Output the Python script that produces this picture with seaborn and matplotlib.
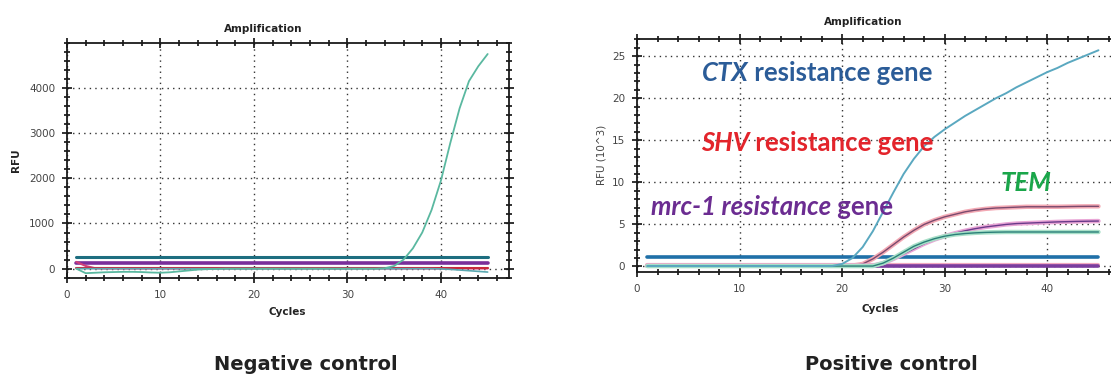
import matplotlib
matplotlib.use('Agg')
import numpy as np
import pandas as pd
import matplotlib.pyplot as plt
import seaborn as sns
from matplotlib.ticker import MultipleLocator

sns.set_style('white')
plt.rcParams['font.family'] = ['DejaVu Sans']

# cycles 1..45
cycles = list(range(1, 46))

# negative control (RFU)
neg_sample = [0, -100, -90, -80, -75, -70, -70, -75, -85, -90, -80, -60, -40, -20, -10,
              -5, 0, 0, 0, 0, 0, 0, 0, 0, 0, 0, 0, 0, 0, 0,
              0, 0, 0, 10, 60, 200, 450, 800, 1300, 1950, 2780, 3550, 4150, 4480, 4750]
neg_drift = [0] * 39 + [-5, -15, -30, -45, -60, -75]
neg_pink = [150, 60, 10] + [5] * 42
neg_thr_teal = [250] * 45
neg_thr_purple = [120] * 45
neg_thr_red = [10] * 45

# positive control (RFU x 10^3)
ctx = [0.05] * 19 + [0.3, 1.0, 2.3, 4.2, 6.5, 8.8, 11.0, 12.8, 14.3, 15.4, 16.3, 17.1, 17.9,
                     18.6, 19.3, 20.0, 20.6, 21.3, 21.9, 22.5, 23.1, 23.6, 24.2, 24.7, 25.2, 25.7]
shv = [0.1] * 21 + [0.3, 0.9, 1.7, 2.6, 3.5, 4.3, 5.0, 5.5, 5.9, 6.2, 6.5, 6.7, 6.85, 6.95,
                    7.0, 7.05, 7.1, 7.1, 7.1, 7.1, 7.12, 7.14, 7.15, 7.15]
mrc1 = [0.1] * 23 + [0.4, 0.9, 1.5, 2.1, 2.7, 3.2, 3.6, 3.95, 4.25, 4.5, 4.7, 4.85, 5.0,
                     5.1, 5.15, 5.2, 5.25, 5.3, 5.33, 5.36, 5.38, 5.4]
tem = [0.05] * 23 + [0.4, 1.0, 1.7, 2.4, 2.9, 3.3, 3.6, 3.8, 3.92, 4.0, 4.05, 4.08,
                     4.1, 4.1, 4.1, 4.1, 4.1, 4.1, 4.1, 4.1, 4.1, 4.1]
pos_base_purple = [0.05] * 45
pos_base_pink = [0.2] * 45
pos_thr = [1.1] * 45


def style_axes(ax, xmax, ylim, yminor, yticks):
    ax.set_xlim(0, xmax)
    ax.set_ylim(*ylim)
    ax.xaxis.set_major_locator(MultipleLocator(10))
    ax.xaxis.set_minor_locator(MultipleLocator(2))
    ax.set_yticks(yticks)
    ax.yaxis.set_minor_locator(MultipleLocator(yminor))
    ax.grid(True, which='major', color='#333333', linestyle=(0, (1, 3)), linewidth=1.0)
    ax.tick_params(which='both', direction='inout', bottom=True, left=True,
                   color='#111111', width=1.2)
    ax.tick_params(which='both', top=True, right=True)
    ax.tick_params(which='major', length=7, labelsize=7.5, labelcolor='#444444', pad=5)
    ax.tick_params(which='minor', length=4.5)
    for s in ax.spines.values():
        s.set_color('#1a1a1a')
        s.set_linewidth(1.3)
    ax.set_xlabel('')
    ax.set_ylabel('')


fig = plt.figure(figsize=(11.11, 3.76), dpi=100)
ax1 = fig.add_axes([0.0603, 0.2614, 0.398, 0.625])
ax2 = fig.add_axes([0.5734, 0.2774, 0.443, 0.618])

# ---- negative control
sns.lineplot(x=cycles, y=neg_thr_teal, color='#1d6e80', linewidth=2.2, ax=ax1)
sns.lineplot(x=cycles, y=neg_thr_purple, color='#7a2e9a', linewidth=2.6, ax=ax1)
sns.lineplot(x=cycles, y=neg_pink, color='#d0407a', linewidth=1.5, ax=ax1)
sns.lineplot(x=cycles, y=neg_thr_red, color='#c8283c', linewidth=1.5, ax=ax1)
sns.lineplot(x=cycles, y=neg_drift, color='#5aa8b0', linewidth=1.2, ax=ax1)
sns.lineplot(x=cycles, y=neg_sample, color='#5ab8a0', linewidth=1.3, ax=ax1)
style_axes(ax1, 47.3, (-200, 5000), 200, [0, 1000, 2000, 3000, 4000])

# ---- positive control
sns.lineplot(x=cycles, y=pos_base_pink, color='#f2a8c0', linewidth=3, ax=ax2)
sns.lineplot(x=cycles, y=pos_base_purple, color='#7a3d9e', linewidth=2.6, ax=ax2)
sns.lineplot(x=cycles, y=pos_thr, color='#1f70a8', linewidth=2.6, ax=ax2)
for vals, glow, core in [(shv, '#f3a9b4', '#7a4a6e'),
                         (mrc1, '#e9a6d6', '#6a3a8a'),
                         (tem, '#a8e0c8', '#2a7f78')]:
    sns.lineplot(x=cycles, y=vals, color=glow, linewidth=3.2, ax=ax2)
    sns.lineplot(x=cycles, y=vals, color=core, linewidth=1.0, ax=ax2)
sns.lineplot(x=cycles, y=ctx, color='#5aa8c0', linewidth=1.4, ax=ax2)
style_axes(ax2, 48, (-0.62, 27), 1, [0, 5, 10, 15, 20, 25])
ax2.spines['right'].set_visible(False)

# annotations in positive panel
txt = dict(fontsize=18.5, fontweight='bold', family=['Lato', 'DejaVu Sans'])


def two_part(ax, x, y, first, second, color):
    t1 = ax.text(x, y, first, color=color, va='center', ha='left',
                 fontstyle='italic', **txt)
    ax.annotate(second, xy=(1, 0), xycoords=t1, va='bottom', ha='left',
                color=color, fontstyle='normal', **txt)


two_part(ax2, 6.3, 23.0, 'CTX', ' resistance gene', '#2b5c98')
two_part(ax2, 6.2, 14.7, 'SHV', ' resistance gene', '#e3242b')
two_part(ax2, 1.33, 7.05, 'mrc-1 resistance', ' gene', '#6b2c91')
ax2.text(35.5, 9.9, 'TEM', color='#1aa64a', va='center', ha='left',
         fontstyle='italic', **txt)

# titles / labels
W, H = 1111, 376
lab = dict(fontsize=7.5, fontweight='bold', color='#222222', ha='center', va='center')
fig.text(263 / W, 1 - 29.3 / H, 'Amplification', **lab)
fig.text(863 / W, 1 - 21.7 / H, 'Amplification', **lab)
fig.text(287.5 / W, 1 - 312 / H, 'Cycles', **lab)
fig.text(880 / W, 1 - 309 / H, 'Cycles', **lab)
fig.text(16 / W, 1 - 160 / H, 'RFU', rotation=90, **lab)
fig.text(601 / W, 1 - 155 / H, 'RFU (10^3)', rotation=90, fontsize=7.5, color='#444444',
         ha='center', va='center')

big = dict(fontsize=14, fontweight='bold', color='#222222', ha='center', va='center')
fig.text(306 / W, 1 - 365 / H, 'Negative control', **big)
fig.text(891.5 / W, 1 - 365 / H, 'Positive control', **big)

fig.savefig('out.png', dpi=100)
